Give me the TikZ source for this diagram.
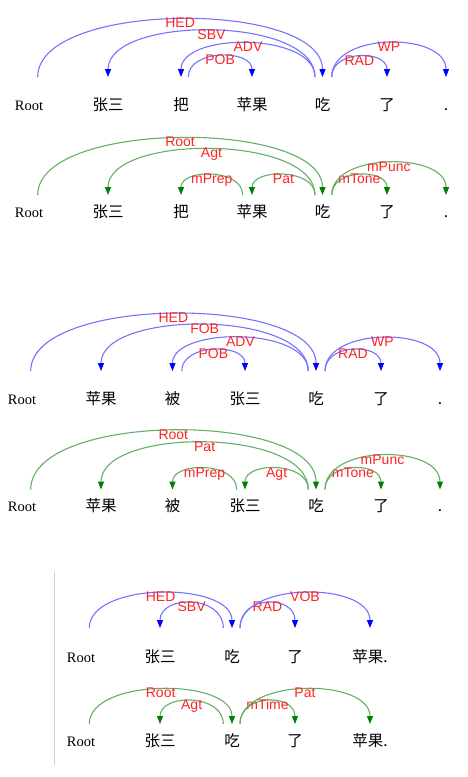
\documentclass[tikz,border=0pt]{standalone}
\usepackage{fontspec}
\setmainfont{Liberation Serif}
\newfontfamily\cjkfont{Noto Sans CJK SC}
\newfontfamily\lblfont{Liberation Sans}
\usetikzlibrary{arrows.meta,calc}
\definecolor{lblred}{RGB}{255,35,35}
\definecolor{arcblue}{RGB}{115,115,255}
\definecolor{tipblue}{RGB}{0,0,255}
\definecolor{arcgreen}{RGB}{100,175,100}
\definecolor{tipgreen}{RGB}{0,128,0}
\tikzset{
  word/.style={anchor=base, inner sep=0pt, font=\cjkfont\fontsize{15.5}{16}\selectfont},
  rootword/.style={anchor=base, inner sep=0pt, font=\fontsize{14.5}{15}\selectfont},
  lbl/.style={anchor=base, inner sep=0pt, text=lblred, font=\lblfont\fontsize{14}{14}\selectfont},
  barc/.style={draw=arcblue, line width=1.1pt, -{Triangle[length=8pt,width=6pt,color=tipblue]}},
  garc/.style={draw=arcgreen, line width=1.1pt, -{Triangle[length=8pt,width=6pt,color=tipgreen]}},
  sepline/.style={draw=black!18, line width=1.5pt}
}
% #1 style, #2 from node, #3 dx, #4 to node, #5 gap above baseline, #6 height, #7 label
\newcommand\deparc[7]{%
  \pgfmathsetmacro\ctlk{#6*4/3}%
  \coordinate (S) at ($(#2.base)+(#3,-#5)$);%
  \coordinate (E) at ($(#4.base)+(0,-#5)$);%
  \draw[#1] (S) .. controls ($(S)+(0,-\ctlk)$) and ($(E)+(0,-\ctlk)$) .. (E);%
  \coordinate (M) at ($(S)!0.5!(E)$);%
  \node[lbl] at ($(M)+(0,{-#6+8.5})$) {#7};%
}
\begin{document}
\begin{tikzpicture}[x=1pt,y=-1pt]
\useasboundingbox (0,0) rectangle (467,777);
% ---------- panel 1 ----------
\node[rootword] (p1w0) at (29,110) {Root};
\node[word] (p1w1) at (108,110) {张三};
\node[word] (p1w2) at (181,110) {把};
\node[word] (p1w3) at (252,110) {苹果};
\node[word] (p1w4) at (322.5,110) {吃};
\node[word] (p1w5) at (387,110) {了};
\node[word] (p1w6) at (446,110) {.};
\deparc{barc}{p1w0}{8.7}{p1w4}{33}{57.7}{HED}
\deparc{barc}{p1w4}{-7.5}{p1w1}{33}{46.3}{SBV}
\deparc{barc}{p1w4}{-7.5}{p1w2}{33}{33.7}{ADV}
\deparc{barc}{p1w2}{7.3}{p1w3}{33}{21}{POB}
\deparc{barc}{p1w4}{9.2}{p1w5}{33}{20.5}{RAD}
\deparc{barc}{p1w4}{9.2}{p1w6}{33}{34}{WP}
% ---------- panel 2 ----------
\node[rootword] (p2w0) at (29,217) {Root};
\node[word] (p2w1) at (108,217) {张三};
\node[word] (p2w2) at (181,217) {把};
\node[word] (p2w3) at (252,217) {苹果};
\node[word] (p2w4) at (322.5,217) {吃};
\node[word] (p2w5) at (387,217) {了};
\node[word] (p2w6) at (446,217) {.};
\deparc{garc}{p2w0}{8.7}{p2w4}{22}{56.7}{Root}
\deparc{garc}{p2w4}{-7.5}{p2w1}{22}{45.7}{Agt}
\deparc{garc}{p2w3}{-9.3}{p2w2}{22}{20}{mPrep}
\deparc{garc}{p2w4}{-7.5}{p2w3}{22}{20}{Pat}
\deparc{garc}{p2w4}{9.2}{p2w5}{22}{20}{mTone}
\deparc{garc}{p2w4}{9.2}{p2w6}{22}{32.3}{mPunc}
% ---------- panel 3 ----------
\node[rootword] (p3w0) at (22,404) {Root};
\node[word] (p3w1) at (101,404) {苹果};
\node[word] (p3w2) at (172.5,404) {被};
\node[word] (p3w3) at (245,404) {张三};
\node[word] (p3w4) at (316,404) {吃};
\node[word] (p3w5) at (381,404) {了};
\node[word] (p3w6) at (440,404) {.};
\deparc{barc}{p3w0}{8.7}{p3w4}{33}{57}{HED}
\deparc{barc}{p3w4}{-7.7}{p3w1}{33}{46}{FOB}
\deparc{barc}{p3w4}{-7.7}{p3w2}{33}{33.3}{ADV}
\deparc{barc}{p3w2}{9.2}{p3w3}{33}{21}{POB}
\deparc{barc}{p3w4}{9}{p3w5}{33}{21}{RAD}
\deparc{barc}{p3w4}{9}{p3w6}{33}{33}{WP}
% ---------- panel 4 ----------
\node[rootword] (p4w0) at (22,511) {Root};
\node[word] (p4w1) at (101,511) {苹果};
\node[word] (p4w2) at (172.5,511) {被};
\node[word] (p4w3) at (245,511) {张三};
\node[word] (p4w4) at (316,511) {吃};
\node[word] (p4w5) at (381,511) {了};
\node[word] (p4w6) at (440,511) {.};
\deparc{garc}{p4w0}{8.7}{p4w4}{21.5}{58.8}{Root}
\deparc{garc}{p4w4}{-7.7}{p4w1}{21.5}{46.8}{Pat}
\deparc{garc}{p4w3}{-8.3}{p4w2}{21.5}{21}{mPrep}
\deparc{garc}{p4w4}{-7.7}{p4w3}{21.5}{21}{Agt}
\deparc{garc}{p4w4}{9}{p4w5}{21.5}{21}{mTone}
\deparc{garc}{p4w4}{9}{p4w6}{21.5}{34}{mPunc}
% ---------- separator ----------
\coordinate (sepA) at (54.5,572);
\coordinate (sepB) at (54.5,765);
\draw[sepline] (sepA) -- (sepB);
% ---------- panel 5 ----------
\node[rootword] (p5w0) at (81,662) {Root};
\node[word] (p5w1) at (160,662) {张三};
\node[word] (p5w2) at (232,662) {吃};
\node[word] (p5w3) at (295,662) {了};
\node[word] (p5w4) at (370,662) {苹果.};
\deparc{barc}{p5w0}{8.3}{p5w2}{34}{35}{HED}
\deparc{barc}{p5w2}{-8.7}{p5w1}{34}{25}{SBV}
\deparc{barc}{p5w2}{8}{p5w3}{34}{25}{RAD}
\deparc{barc}{p5w2}{8}{p5w4}{34}{35}{VOB}
% ---------- panel 6 ----------
\node[rootword] (p6w0) at (81,746) {Root};
\node[word] (p6w1) at (160,746) {张三};
\node[word] (p6w2) at (232,746) {吃};
\node[word] (p6w3) at (295,746) {了};
\node[word] (p6w4) at (370,746) {苹果.};
\deparc{garc}{p6w0}{8.3}{p6w2}{22}{34.7}{Root}
\deparc{garc}{p6w2}{-8.7}{p6w1}{22}{23}{Agt}
\deparc{garc}{p6w2}{8}{p6w3}{22}{23}{mTime}
\deparc{garc}{p6w2}{8}{p6w4}{22}{34.7}{Pat}
\end{tikzpicture}
\end{document}
